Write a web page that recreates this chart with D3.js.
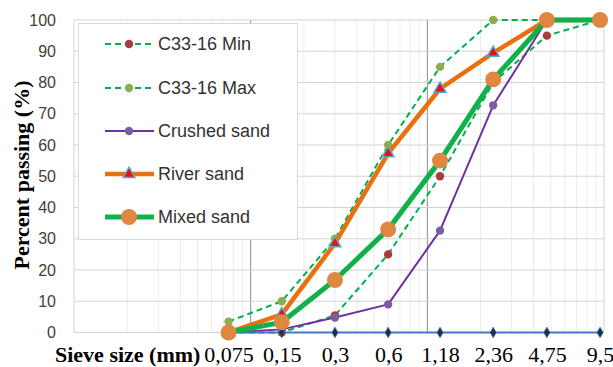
<!DOCTYPE html>
<html><head><meta charset="utf-8">
<script src="https://cdn.jsdelivr.net/npm/d3@7"></script>
<style>html,body{margin:0;padding:0;background:#fff;}svg{display:block;}</style>
</head><body>
<svg id="chart" width="613" height="367"></svg>
<script>
const sieves = [0.075, 0.15, 0.3, 0.6, 1.18, 2.36, 4.75, 9.5];
const sieveLabels = ["0,075", "0,15", "0,3", "0,6", "1,18", "2,36", "4,75", "9,5"];
const c33Min = [0, 0, 5.5, 25, 50, 80, 95, 100];
const c33Max = [3.5, 10, 30, 60, 85, 100, 100, 100];
const crushedSand = [0, 1, 4.8, 9, 32.6, 72.7, 100, 100];
const riverSand = [0, 5.8, 28.5, 57.3, 78, 89.5, 100, 100];
const mixedSand = [0, 3.3, 16.8, 33, 55, 81, 100, 100];
const zeroLine = [0, 0, 0, 0, 0, 0, 0, 0];
const yTicks = [0, 10, 20, 30, 40, 50, 60, 70, 80, 90, 100];
const seriesNames = ["C33-16 Min", "C33-16 Max", "Crushed sand", "River sand", "Mixed sand"];

const svg = d3.select("#chart");
const x = d3.scaleLog().domain([0.01, 10]).range([74, 604]);
const y = d3.scaleLinear().domain([0, 100]).range([332.5, 20]);

// gridlines
const grid = svg.append("g");
const vt = x.ticks();
grid.selectAll("line.v").data(vt).enter().append("line")
  .attr("x1", d => x(d)).attr("x2", d => x(d))
  .attr("y1", y(100)).attr("y2", y(0))
  .attr("stroke", d => {
    const l = Math.log10(d);
    if (Math.abs(l - Math.round(l)) < 1e-9) {
      if (Math.abs(d - 0.1) < 1e-9 || Math.abs(d - 1) < 1e-9) return "#8c8c8c";
      return "#d4d4d4";
    }
    return "#ececec";
  })
  .attr("stroke-width", 1);
grid.selectAll("line.h").data(yTicks).enter().append("line")
  .attr("x1", x(0.01)).attr("x2", x(10))
  .attr("y1", d => y(d)).attr("y2", d => y(d))
  .attr("stroke", "#d4d4d4").attr("stroke-width", 1.2);

// axes
const yAxis = svg.append("g").attr("transform", `translate(${x(0.01)},0)`)
  .call(d3.axisLeft(y).tickValues(yTicks).tickSize(0).tickPadding(18));
yAxis.select(".domain").remove();
yAxis.selectAll("text").attr("font-family", "'Liberation Sans', Arial, sans-serif")
  .attr("font-size", 16).attr("fill", "#404040");

const xAxis = svg.append("g").attr("transform", `translate(0,${y(0)})`)
  .call(d3.axisBottom(x).tickValues(sieves).tickFormat((d, i) => sieveLabels[i]).tickSize(0));
xAxis.select(".domain").remove();
xAxis.selectAll("text").attr("font-family", "'Liberation Serif', 'Times New Roman', serif")
  .attr("font-size", 22).attr("fill", "#000").attr("y", 29.5).attr("dy", 0);

svg.append("text").attr("x", 55).attr("y", 362)
  .attr("font-family", "'Liberation Serif', 'Times New Roman', serif")
  .attr("font-size", 22).attr("font-weight", "bold").text("Sieve size (mm)");

svg.append("text").attr("transform", "translate(29,175) rotate(-90)")
  .attr("text-anchor", "middle")
  .attr("font-family", "'Liberation Serif', 'Times New Roman', serif")
  .attr("font-size", 22).attr("font-weight", "bold").text("Percent passing (%)");

// series
const line = d3.line().x((d, i) => x(sieves[i])).y(d => y(d));
const plot = svg.append("g");

function drawSeries(vals, opt) {
  plot.append("path").datum(vals).attr("d", line)
    .attr("fill", "none").attr("stroke", opt.color).attr("stroke-width", opt.width)
    .attr("stroke-dasharray", opt.dash || null).attr("stroke-linejoin", "round");
  const g = plot.append("g");
  vals.forEach((v, i) => {
    g.append("path")
      .attr("transform", `translate(${x(sieves[i])},${y(v)})`)
      .attr("d", d3.symbol().type(opt.symbol).size(opt.size)())
      .attr("fill", opt.fill).attr("stroke", opt.stroke || "none").attr("stroke-width", opt.sw || 0);
  });
}
const styles = [
  {color: "#00b050", width: 2, dash: "6,4", symbol: d3.symbolCircle, size: 55, fill: "#a83c3c"},
  {color: "#00b050", width: 2, dash: "6,4", symbol: d3.symbolCircle, size: 55, fill: "#8fac4e"},
  {color: "#7030a0", width: 2, symbol: d3.symbolCircle, size: 55, fill: "#7a5ca2"},
  {color: "#e8700f", width: 4.5, symbol: d3.symbolTriangle, size: 60, fill: "#e81010", stroke: "#5aa9c8", sw: 1.5},
  {color: "#0fb24a", width: 5, symbol: d3.symbolCircle, size: 200, fill: "#df8740"}
];
const data = [c33Min, c33Max, crushedSand, riverSand];
data.forEach((d, i) => drawSeries(d, styles[i]));
drawSeries(zeroLine, {color: "#4677c4", width: 2, symbol: d3.symbolDiamond, size: 32, fill: "#1c2f4f", stroke: "#3f6aa8", sw: 0.8});
drawSeries(mixedSand, styles[4]);

// legend
const lg = svg.append("g");
lg.append("rect").attr("x", 78.5).attr("y", 23.5).attr("width", 219).attr("height", 216)
  .attr("fill", "#fff").attr("stroke", "#d9d9d9").attr("stroke-width", 1);
const rowY = [44, 88, 131, 174, 217];
seriesNames.forEach((name, i) => {
  const s = styles[i];
  lg.append("line").attr("x1", 105).attr("x2", 154).attr("y1", rowY[i]).attr("y2", rowY[i])
    .attr("stroke", s.color).attr("stroke-width", s.width).attr("stroke-dasharray", s.dash || null);
  lg.append("path").attr("transform", `translate(129,${rowY[i]})`)
    .attr("d", d3.symbol().type(s.symbol).size(s.size)())
    .attr("fill", s.fill).attr("stroke", s.stroke || "none").attr("stroke-width", s.sw || 0);
  lg.append("text").attr("x", 158).attr("y", rowY[i]).attr("dy", "0.35em")
    .attr("font-family", "'Liberation Sans', Arial, sans-serif").attr("font-size", 18)
    .attr("fill", "#333").text(name);
});
</script>
</body></html>
